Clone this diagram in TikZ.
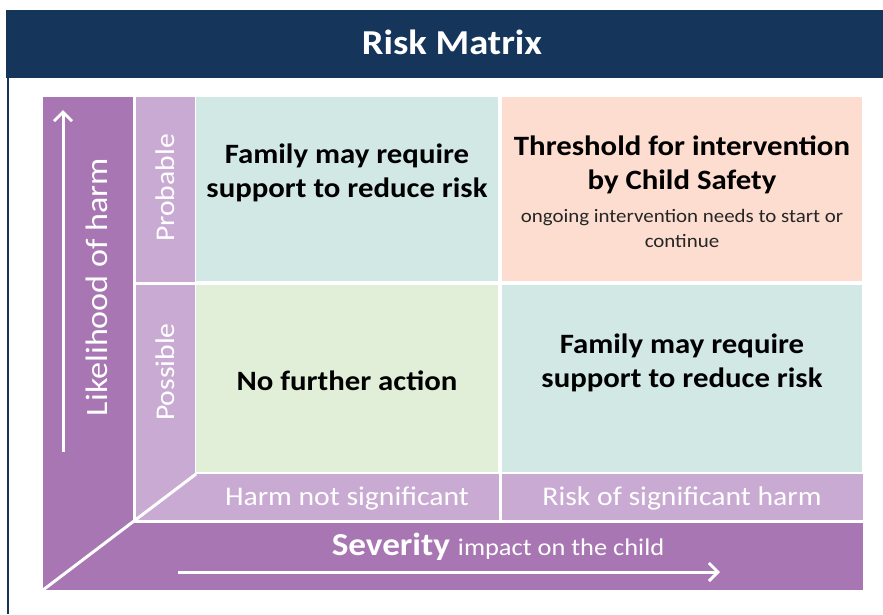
\documentclass[tikz,border=0pt]{standalone}
\usepackage{fontspec}
\setmainfont{Carlito}[FakeStretch=1.1]
\usepackage{tikz}
\usetikzlibrary{arrows.meta}

\definecolor{navy}{HTML}{15365A}
\definecolor{plum}{HTML}{A776B3}
\definecolor{lilac}{HTML}{C9AAD3}
\definecolor{aqua}{HTML}{D1E8E5}
\definecolor{peach}{HTML}{FCDDCF}
\definecolor{sage}{HTML}{E2EFD8}

\begin{document}
\begin{tikzpicture}[x=1pt, y=-1pt,
    every node/.style={font=\fontsize{27}{33}\selectfont, align=center},
    celltext/.style={font=\fontsize{28}{34}\selectfont\bfseries, text=black},
    notetext/.style={font=\fontsize{19}{25}\selectfont, text=black!85},
    axistext/.style={text=white},
    sep/.style={white, line width=3pt},
    axisarrow/.style={white, line width=3pt, -{Straight Barb[length=9pt, width=18pt, line width=3pt]}}]
    \useasboundingbox (0,0) rectangle (883,614);

    % --- Header and frame ---
    \fill[navy] (6,10) rectangle (883,78);
    \draw[navy, line width=2.5pt] (8,78) -- (8,614);
    \node[text=white, font=\fontsize{35}{40}\selectfont\bfseries] (title) at (452,42) {Risk Matrix};

    % --- Axis bands ---
    \fill[plum] (43,97) rectangle (133,590);
    \fill[plum] (43,521) rectangle (863,590);
    \fill[lilac] (134,97) rectangle (195,521);
    \fill[lilac] (134,474) rectangle (863,521);
    % separators
    \draw[sep] (134,97) -- (134,521) -- (863,521);
    \draw[sep] (43,590) -- (134,521);
    \draw[sep] (134,521) -- (196,474);
    \draw[sep] (134,283) -- (196,283);
    \draw[sep] (500,474) -- (500,521);

    % --- Cells ---
    \fill[aqua] (196,97) rectangle (498,281);
    \fill[peach] (502,97) rectangle (862,281);
    \fill[sage] (196,285) rectangle (498,472);
    \fill[aqua] (502,285) rectangle (862,472);

    % --- Cell texts ---
    \node[celltext] (probminor) at (347,173) {Family may require\\support to reduce risk};
    \node[celltext] (probmajor) at (682,165) {Threshold for intervention\\by Child Safety};
    \node[notetext] (probmajornote) at (682,228) {ongoing intervention needs to start or\\continue};
    \node[celltext] (possminor) at (347,381) {No further action};
    \node[celltext] (possmajor) at (682,363) {Family may require\\support to reduce risk};

    % --- Axis labels ---
    \node[axistext, rotate=90, font=\fontsize{31}{34}\selectfont] (likely) at (97,287) {Likelihood of harm};
    \node[axistext, rotate=90, font=\fontsize{27}{30}\selectfont] (probable) at (165,188) {Probable};
    \node[axistext, rotate=90, font=\fontsize{27}{30}\selectfont] (possible) at (165,372) {Possible};
    \node[axistext] (notsig) at (347,498) {Harm not significant};
    \node[axistext] (sig) at (682,498) {Risk of significant harm};
    \node[axistext, font=\fontsize{32}{34}\selectfont\bfseries] (severity) at (498,547)
        {Severity {\mdseries\fontsize{24}{26}\selectfont impact on the child}};

    % --- Axis arrows ---
    \coordinate (likelyfoot) at (63,452);
    \coordinate (likelyhead) at (63,110);
    \coordinate (severityfoot) at (178,572);
    \coordinate (severityhead) at (720,572);
    \draw[axisarrow] (likelyfoot) -- (likelyhead);
    \draw[axisarrow] (severityfoot) -- (severityhead);
\end{tikzpicture}
\end{document}
